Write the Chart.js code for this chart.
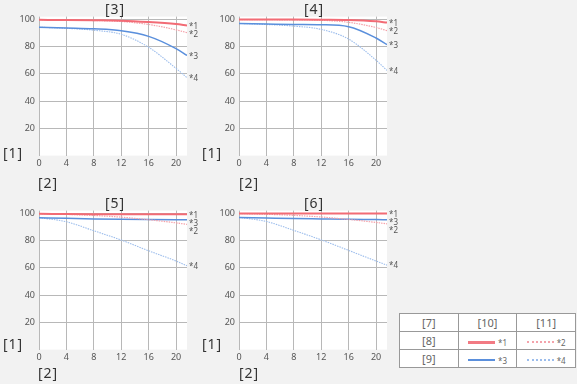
<!DOCTYPE html>
<html>
<head>
<meta charset="utf-8">
<script src="https://cdn.jsdelivr.net/npm/chart.js@4.4.0/dist/chart.umd.min.js"></script>
<style>
body { margin: 0; width: 577px; height: 384px; overflow: hidden; position: relative; background: #f2f2f2; font-family: "Noto Sans", sans-serif; }
canvas { position: absolute; }
.lbl { position: absolute; font-size: 14px; color: #333; transform: translate(-50%, -50%); white-space: nowrap; letter-spacing: 1px; }
table { position: absolute; left: 399px; top: 313px; width: 177px; height: 54px; border-collapse: collapse; background: #fff; font-size: 11px; color: #666; }
td { border: 1px solid #999; text-align: center; padding: 0; width: 33%; height: 17px; }
.sw { display: inline-block; width: 27px; vertical-align: middle; margin-right: 3px; }
.k { font-size: 8px; vertical-align: middle; }
</style>
</head>
<body>
<canvas id="c3" width="200" height="175" style="left:0;top:0"></canvas>
<canvas id="c4" width="200" height="175" style="left:200px;top:0"></canvas>
<canvas id="c5" width="200" height="175" style="left:0;top:194px"></canvas>
<canvas id="c6" width="200" height="175" style="left:200px;top:194px"></canvas>

<div class="lbl" style="left:115px;top:8px">[3]</div>
<div class="lbl" style="left:314px;top:8px">[4]</div>
<div class="lbl" style="left:115px;top:202px">[5]</div>
<div class="lbl" style="left:314px;top:202px">[6]</div>
<div class="lbl" style="left:13px;top:152px">[1]</div>
<div class="lbl" style="left:212px;top:152px">[1]</div>
<div class="lbl" style="left:13px;top:343px">[1]</div>
<div class="lbl" style="left:212px;top:343px">[1]</div>
<div class="lbl" style="left:48px;top:182px">[2]</div>
<div class="lbl" style="left:249px;top:182px">[2]</div>
<div class="lbl" style="left:48px;top:372px">[2]</div>
<div class="lbl" style="left:249px;top:372px">[2]</div>

<table>
  <tr><td>[7]</td><td>[10]</td><td>[11]</td></tr>
  <tr><td>[8]</td>
    <td><span class="sw" style="border-top:3px solid #f27a83"></span><span class="k">*1</span></td>
    <td><span class="sw" style="border-top:2px dotted #f4a3ab"></span><span class="k">*2</span></td></tr>
  <tr><td>[9]</td>
    <td><span class="sw" style="border-top:2px solid #5a8fdc"></span><span class="k">*3</span></td>
    <td><span class="sw" style="border-top:2px dotted #9cbdec"></span><span class="k">*4</span></td></tr>
</table>

<script>
// x positions (mm from centre) and MTF values (%) per panel
const xs = [0, 4, 8, 12, 16, 20, 21.6];
const xTicks = [0, 4, 8, 12, 16, 20];
const yTicks = [20, 40, 60, 80, 100];
const seriesNames = ['*1', '*2', '*3', '*4'];

const p3s1 = [99.6, 99.5, 99.3, 99.0, 98.0, 96.5, 95.5];
const p3s2 = [99.6, 99.4, 99.1, 98.4, 96.2, 92.3, 90.2];
const p3s3 = [94.2, 93.6, 93.0, 91.6, 87.5, 78.5, 73.5];
const p3s4 = [94.2, 93.4, 92.0, 89.0, 79.5, 64.0, 57.2];

const p4s1 = [99.8, 99.8, 99.8, 99.7, 99.5, 98.5, 97.6];
const p4s2 = [99.8, 99.7, 99.6, 99.3, 97.8, 94.0, 91.7];
const p4s3 = [97.0, 96.6, 96.2, 96.0, 94.6, 86.3, 81.5];
const p4s4 = [97.0, 96.2, 95.0, 92.6, 85.5, 70.0, 62.5];

const p5s1 = [99.6, 99.5, 99.4, 99.3, 99.3, 99.3, 99.3];
const p5s2 = [99.6, 99.2, 98.4, 97.2, 95.3, 93.0, 91.9];
const p5s3 = [96.8, 96.3, 95.9, 95.6, 95.4, 95.3, 95.3];
const p5s4 = [96.8, 93.8, 87.2, 80.4, 72.5, 65.0, 61.5];

const p6s1 = [99.9, 99.9, 99.9, 99.9, 99.9, 99.9, 99.9];
const p6s2 = [99.8, 99.3, 98.5, 97.3, 95.5, 93.3, 92.3];
const p6s3 = [97.0, 96.6, 96.2, 95.9, 95.6, 95.4, 95.3];
const p6s4 = [97.0, 94.0, 87.5, 80.5, 72.8, 65.0, 62.0];

const styles = [
    { borderColor: '#f26b75', borderWidth: 2 },
    { borderColor: '#f5a2aa', borderWidth: 1.2, borderDash: [1.5, 1] },
    { borderColor: '#5a8fdc', borderWidth: 1.5 },
    { borderColor: '#9cbdec', borderWidth: 1.1, borderDash: [1.5, 1] }
];

// white plot background
const plotBg = {
    id: 'plotBg',
    beforeDraw(chart) {
        const a = chart.chartArea, ctx = chart.ctx;
        ctx.save();
        ctx.fillStyle = '#fff';
        ctx.fillRect(a.left, a.top, a.right - a.left, a.bottom - a.top);
        ctx.restore();
    }
};

// "*n" tags at the right end of each curve
const endTags = {
    id: 'endTags',
    afterDraw(chart) {
        const ctx = chart.ctx, a = chart.chartArea;
        const tags = chart.data.datasets.map((ds, i) => {
            const pts = chart.getDatasetMeta(i).data;
            return { t: seriesNames[i], y: pts[pts.length - 1].y };
        }).sort((p, q) => p.y - q.y);
        for (let i = 1; i < tags.length; i++) {
            if (tags[i].y - tags[i - 1].y < 8) tags[i].y = tags[i - 1].y + 8;
        }
        ctx.save();
        ctx.font = '8px "Noto Sans"';
        ctx.fillStyle = '#555';
        ctx.textBaseline = 'middle';
        tags.forEach(t => ctx.fillText(t.t, a.right + 2, t.y + 1));
        ctx.restore();
    }
};

function makePanel(id, vals) {
    new Chart(document.getElementById(id), {
        type: 'line',
        data: {
            datasets: vals.map((v, i) => Object.assign({
                data: xs.map((x, j) => ({ x: x, y: v[j] })),
                pointRadius: 0,
                fill: false,
                cubicInterpolationMode: 'monotone'
            }, styles[i]))
        },
        options: {
            responsive: false,
            animation: false,
            events: [],
            layout: { padding: { left: 0, right: 13, top: 16.6, bottom: 0 } },
            plugins: { legend: { display: false }, tooltip: { enabled: false } },
            scales: {
                x: {
                    type: 'linear', min: 0, max: 21.6,
                    afterFit: s => { s.height = 19.4; },
                    afterBuildTicks: s => { s.ticks = xTicks.map(v => ({ value: v })); },
                    border: { display: false },
                    grid: { color: '#b8b8b8', lineWidth: 1, drawTicks: false },
                    ticks: { color: '#555', font: { size: 9, family: 'Noto Sans' }, padding: 2, maxRotation: 0 }
                },
                y: {
                    min: 0, max: 102,
                    afterFit: s => { s.width = 39; },
                    afterBuildTicks: s => { s.ticks = yTicks.map(v => ({ value: v })); },
                    border: { display: false },
                    grid: { color: '#b8b8b8', lineWidth: 1, drawTicks: false },
                    ticks: { color: '#555', font: { size: 9, family: 'Noto Sans' }, padding: 4 }
                }
            }
        },
        plugins: [plotBg, endTags]
    });
}

makePanel('c3', [p3s1, p3s2, p3s3, p3s4]);
makePanel('c4', [p4s1, p4s2, p4s3, p4s4]);
makePanel('c5', [p5s1, p5s2, p5s3, p5s4]);
makePanel('c6', [p6s1, p6s2, p6s3, p6s4]);
</script>
</body>
</html>
